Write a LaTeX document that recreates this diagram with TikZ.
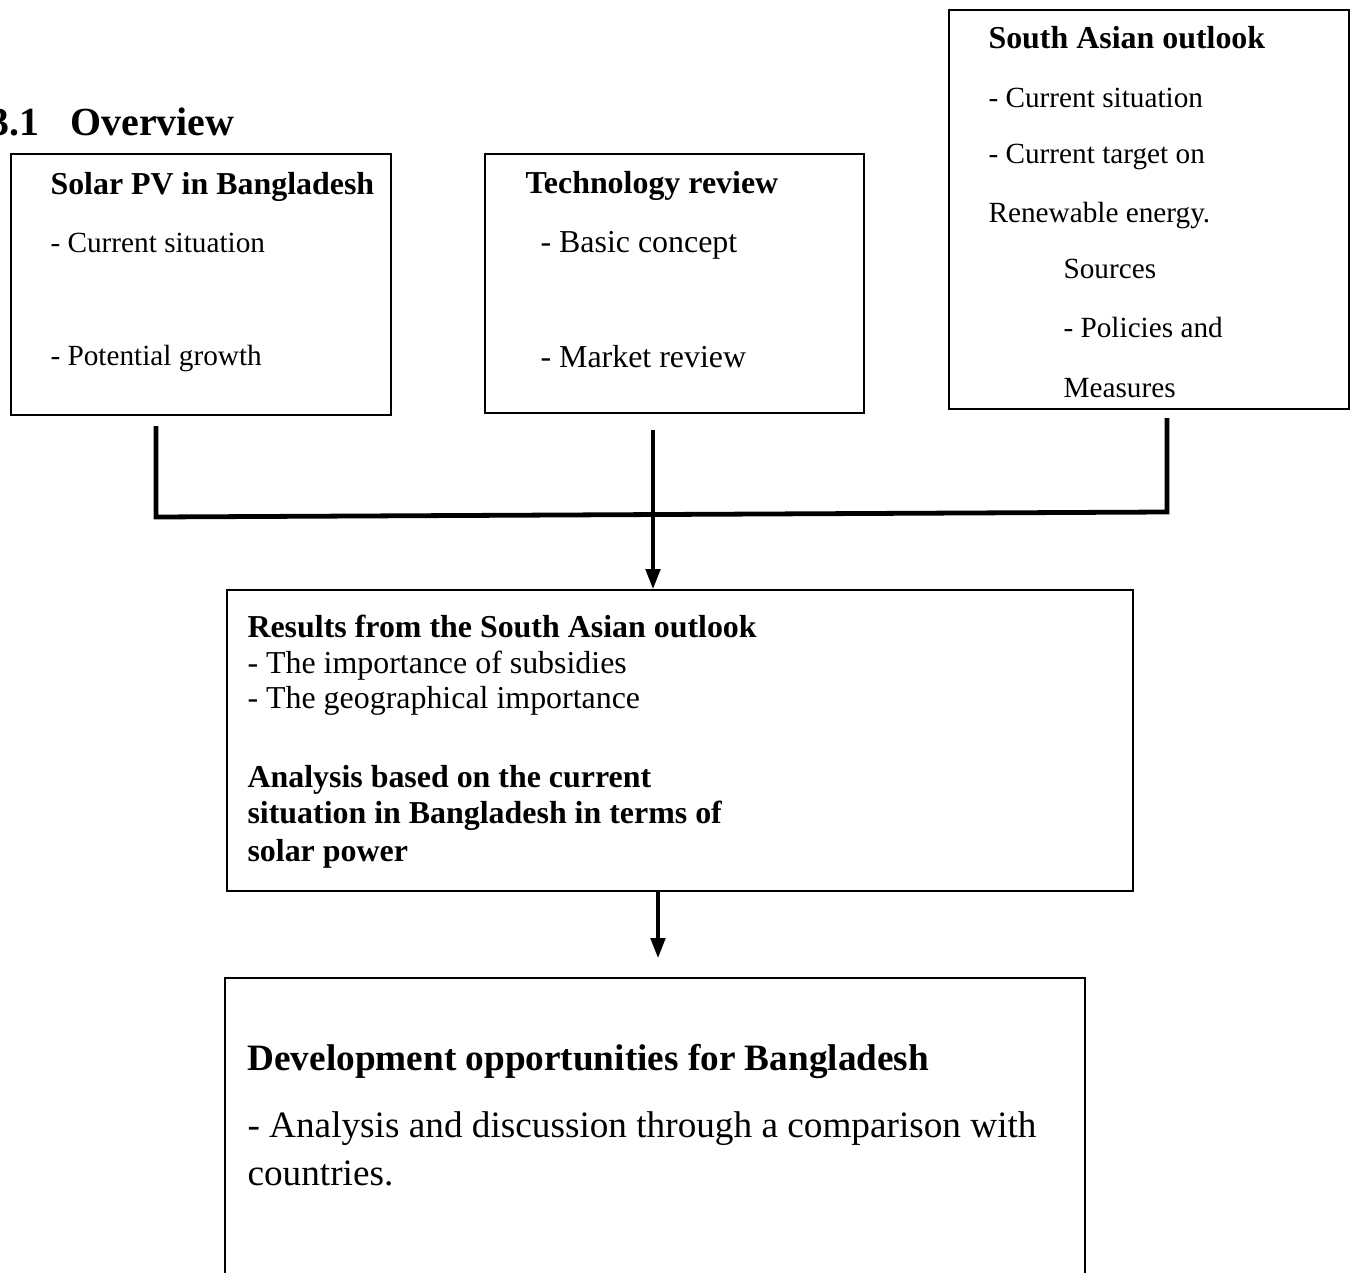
\documentclass[tikz,border=0pt]{standalone}
\usepackage{fontspec}
\setmainfont{Liberation Serif}
\usetikzlibrary{arrows.meta}
\tikzset{
  boite/.style={draw, rectangle, line width=0.9pt, anchor=north west, inner sep=0pt},
  txt/.style={anchor=base west, inner sep=0pt},
  bracket/.style={line width=1.8pt},
  fleche/.style={line width=1.2pt, -{Triangle[length=7.5pt,width=5.5pt]}}
}
\begin{document}
\begin{tikzpicture}[x=0.376pt, y=-0.376pt]
        \useasboundingbox (0,0) rectangle (1357,1273);
        \node[txt, font=\fontsize{15}{18}\selectfont\bfseries] (titre) at (-11,135) {3.1\hspace{0.78em}Overview};
        % les trois boites du haut
        \node[boite, minimum width=142.9pt, minimum height=98.1pt] (S) at (10,153) {};
        \node[txt, font=\fontsize{12}{14}\selectfont\bfseries] (S1) at (50,194) {Solar PV in Bangladesh};
        \node[txt, font=\fontsize{11}{13}\selectfont] (S2) at (50,252) {- Current situation};
        \node[txt, font=\fontsize{11}{13}\selectfont] (S3) at (50,365) {- Potential growth};
        \node[boite, minimum width=142.5pt, minimum height=97.4pt] (T) at (484,153) {};
        \node[txt, font=\fontsize{12}{14}\selectfont\bfseries] (T1) at (525,193) {Technology review};
        \node[txt, font=\fontsize{12}{14}\selectfont] (T2) at (540,252) {- Basic concept};
        \node[txt, font=\fontsize{12}{14}\selectfont] (T3) at (540,367) {- Market review};
        \node[boite, minimum width=150.4pt, minimum height=150pt] (A) at (948,9) {};
        \node[txt, font=\fontsize{12}{14}\selectfont\bfseries] (A1) at (988,48) {South Asian outlook};
        \node[txt, font=\fontsize{11}{13}\selectfont] (A2) at (988,107) {- Current situation};
        \node[txt, font=\fontsize{11}{13}\selectfont] (A3) at (988,163) {- Current target on};
        \node[txt, font=\fontsize{11}{13}\selectfont] (A4) at (988,222) {Renewable energy.};
        \node[txt, font=\fontsize{11}{13}\selectfont] (A5) at (1063,278) {Sources};
        \node[txt, font=\fontsize{11}{13}\selectfont] (A6) at (1063,337) {- Policies and};
        \node[txt, font=\fontsize{11}{13}\selectfont] (A7) at (1063,397) {Measures};
        % resultats
        \node[boite, minimum width=340.7pt, minimum height=113.2pt] (R) at (226,589) {};
        \node[txt, font=\fontsize{12}{14}\selectfont\bfseries] (R1) at (247,637) {Results from the South Asian outlook};
        \node[txt, font=\fontsize{12}{14}\selectfont] (R2) at (247,673) {- The importance of subsidies};
        \node[txt, font=\fontsize{12}{14}\selectfont] (R3) at (247,708) {- The geographical importance};
        \node[txt, font=\fontsize{12}{14}\selectfont\bfseries] (R4) at (247,787) {Analysis based on the current};
        \node[txt, font=\fontsize{12}{14}\selectfont\bfseries] (R5) at (247,823) {situation in Bangladesh in terms of};
        \node[txt, font=\fontsize{12}{14}\selectfont\bfseries] (R6) at (247,861) {solar power};
        % developpement
        \node[boite, minimum width=323.4pt, minimum height=121.4pt] (D) at (224,977) {};
        \node[txt, font=\fontsize{14}{17}\selectfont\bfseries] (D1) at (247,1070) {Development opportunities for Bangladesh};
        \node[txt, font=\fontsize{14}{17}\selectfont] (D2) at (247,1137) {- Analysis and discussion through a comparison with};
        \node[txt, font=\fontsize{14}{17}\selectfont] (D3) at (247,1185) {countries.};
        % liaisons
        \coordinate (sS) at (156,426);
        \coordinate (jS) at (156,517);
        \coordinate (sA) at (1167,418);
        \coordinate (jA) at (1167,512);
        \coordinate (sT) at (653,430);
        \coordinate (sR) at (658,890);
        \coordinate (eD) at (658,958);
        \draw[bracket] (sS) -- (jS) -- (jA) -- (sA);
        \draw[fleche] (sT) -- (sT |- R.north);
        \draw[fleche] (sR) -- (eD);
    \end{tikzpicture}
\end{document}
